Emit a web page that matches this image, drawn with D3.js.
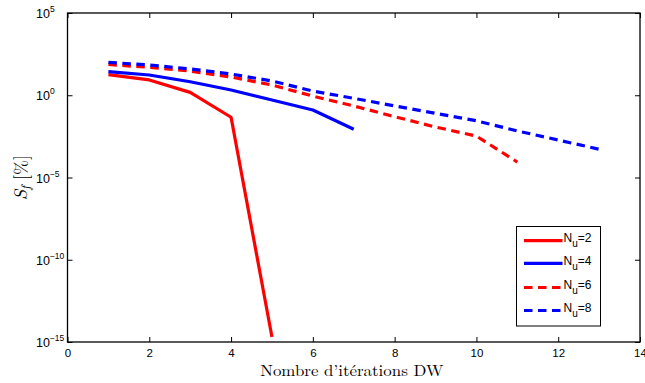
<!DOCTYPE html>
<html><head><meta charset="utf-8">
<script src="https://cdn.jsdelivr.net/npm/d3@7"></script>
<style>
body{margin:0;background:#fff;}
svg{display:block;}
</style></head>
<body>
<svg id="chart" width="645" height="383"></svg>
<script>
// ---- data ----
const xTicks = [0, 2, 4, 6, 8, 10, 12, 14];
const yTickExps = [5, 0, -5, -10, -15];
const seriesNames = ["2", "4", "6", "8"];
const seriesColors = ["#ff0000", "#0000ff", "#ff0000", "#0000ff"];
const seriesDashed = [false, false, true, true];
const x_Nu2 = [1, 2, 3, 4, 5];
const y_Nu2 = [1.8e1, 8.5, 1.5, 4.6e-2, 2.0e-15];
const x_Nu4 = [1, 2, 3, 4, 5, 6, 7];
const y_Nu4 = [2.75e1, 1.7e1, 6.6, 2.1, 5.1e-1, 1.26e-1, 8.5e-3];
const x_Nu6 = [1, 2, 3, 4, 5, 6, 7, 8, 9, 10, 11];
const y_Nu6 = [7.4e1, 5.0e1, 2.95e1, 1.29e1, 4.2, 8.9e-1, 2.24e-1, 5.0e-2, 1.17e-2, 3.3e-3, 8.7e-5];
const x_Nu8 = [1, 2, 3, 4, 5, 6, 7, 8, 9, 10, 11, 12, 13];
const y_Nu8 = [1.0e2, 6.9e1, 4.0e1, 1.95e1, 7.4, 1.8, 6.5e-1, 2.24e-1, 7.9e-2, 2.8e-2, 6.8e-3, 1.9e-3, 5.2e-4];

const seriesX = [x_Nu2, x_Nu4, x_Nu6, x_Nu8];
const seriesY = [y_Nu2, y_Nu4, y_Nu6, y_Nu8];

// ---- layout ----
const L = 67.5, R = 640, T = 13, B = 342;
const svg = d3.select("#chart");
const x = d3.scaleLinear().domain([0, 14]).range([L, R]);
const y = d3.scaleLog().domain([1e-15, 1e5]).range([B, T]);

const tickFont = "'Liberation Sans', Arial, Helvetica, sans-serif";
const serif = "'Latin Modern Roman','CMU Serif','Liberation Serif','DejaVu Serif',serif";

// lines
const line = d3.line().x(d => x(d[0])).y(d => y(d[1]));
const plot = svg.append("g");
seriesX.forEach((xs, i) => {
  const pts = xs.map((v, j) => [v, seriesY[i][j]]);
  plot.append("path")
    .attr("d", line(pts))
    .attr("fill", "none")
    .attr("stroke", seriesColors[i])
    .attr("stroke-width", 3.2)
    .attr("stroke-linejoin", "round")
    .attr("stroke-dasharray", seriesDashed[i] ? "8.5,5.5" : null);
});

// axes
const tl = 5;
const xb = d3.axisBottom(x).tickValues(xTicks).tickSizeInner(-tl).tickSizeOuter(0).tickPadding(9);
const xt = d3.axisTop(x).tickValues(xTicks).tickSizeInner(-tl).tickSizeOuter(0).tickFormat("");
const yl = d3.axisLeft(y).tickValues(yTickExps.map(e => Math.pow(10, e))).tickSizeInner(-tl).tickSizeOuter(0).tickFormat("");
const yr = d3.axisRight(y).tickValues(yTickExps.map(e => Math.pow(10, e))).tickSizeInner(-tl).tickSizeOuter(0).tickFormat("");

const gxb = svg.append("g").attr("transform", `translate(0,${B})`).call(xb);
svg.append("g").attr("transform", `translate(0,${T})`).call(xt);
const gyl = svg.append("g").attr("transform", `translate(${L},0)`).call(yl);
svg.append("g").attr("transform", `translate(${R},0)`).call(yr);

svg.selectAll(".domain").remove();
svg.selectAll(".tick line").attr("stroke", "#000").attr("stroke-width", 1);
gxb.selectAll(".tick text")
  .attr("font-family", tickFont).attr("font-size", 11.5).attr("fill", "#000")
  .attr("dy", null).attr("y", 14.5);

// y tick labels 10^e
gyl.selectAll(".tick").each(function(d) {
  const e = Math.round(Math.log10(d));
  const t = d3.select(this).append("text")
    .attr("x", 36 - L).attr("y", 4.5)
    .attr("text-anchor", "start")
    .attr("font-family", tickFont).attr("fill", "#000");
  t.append("tspan").attr("font-size", 12.5).text("10");
  t.append("tspan").attr("font-size", 8.5).attr("dy", -6).text(String(e).replace("-", "\u2212"));
});

// frame
svg.append("rect").attr("x", L).attr("y", T).attr("width", R - L).attr("height", B - T)
  .attr("fill", "none").attr("stroke", "#000").attr("stroke-width", 1.3);

// x label
svg.append("text").attr("x", (L + R) / 2 - 2).attr("y", 375.5)
  .attr("text-anchor", "middle").attr("font-family", serif).attr("font-size", 16)
  .attr("textLength", 183).attr("lengthAdjust", "spacingAndGlyphs")
  .attr("fill", "#000").text("Nombre d\u2019itérations DW");

// y label
const yl_t = svg.append("text").attr("transform", `translate(27,${(T + B) / 2}) rotate(-90)`)
  .attr("text-anchor", "middle").attr("font-family", serif).attr("font-size", 18).attr("fill", "#000");
yl_t.append("tspan").attr("font-style", "italic").text("S");
yl_t.append("tspan").attr("font-style", "italic").attr("font-size", 13).attr("dy", 3).text("f");
yl_t.append("tspan").attr("dy", -3).text(" [%]");

// legend
const lg = svg.append("g");
lg.append("rect").attr("x", 516.5).attr("y", 226.5).attr("width", 84).attr("height", 99.5)
  .attr("fill", "#fff").attr("stroke", "#000").attr("stroke-width", 1);
const rowY = [240.7, 263.3, 287.5, 310.5];
seriesNames.forEach((n, i) => {
  lg.append("line").attr("x1", 524).attr("x2", 562.5).attr("y1", rowY[i]).attr("y2", rowY[i])
    .attr("stroke", seriesColors[i]).attr("stroke-width", 3.2)
    .attr("stroke-dasharray", seriesDashed[i] ? "8.5,5.5" : null);
  const t = lg.append("text").attr("x", 563.5).attr("y", rowY[i] + 1.5)
    .attr("font-family", tickFont).attr("font-size", 12).attr("fill", "#000");
  t.append("tspan").text("N");
  t.append("tspan").attr("font-size", 10).attr("dy", 5).text("u");
  t.append("tspan").attr("dy", -5).text("=" + n);
});
</script>
</body></html>
